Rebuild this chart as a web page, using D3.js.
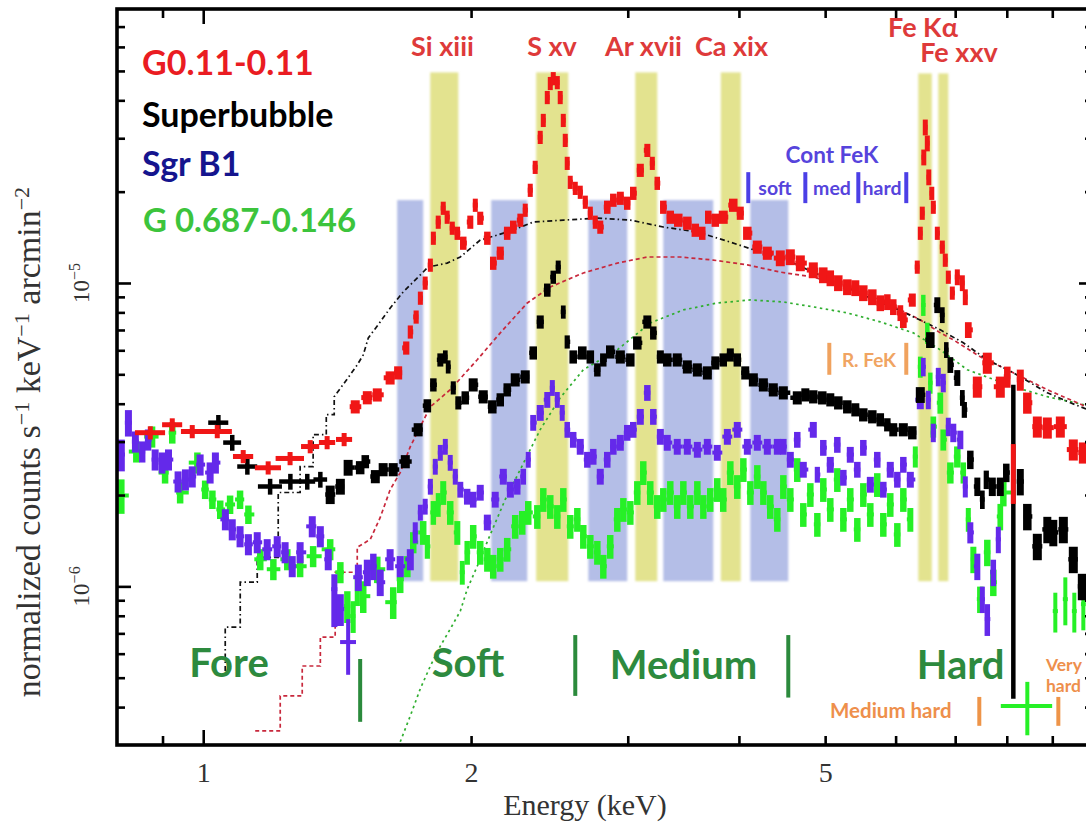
<!DOCTYPE html>
<html>
<head>
<meta charset="utf-8">
<script src="https://cdn.jsdelivr.net/npm/d3@7"></script>
<style>
  html, body { margin: 0; padding: 0; background: #fff; }
  svg { display: block; }
</style>
</head>
<body>
<svg id="chart" width="1086" height="828"></svg>
<script>
// ---------- spectral bands (keV) ----------
const contBands = [[1.652, 1.767], [2.107, 2.313], [2.709, 2.996], [3.289, 3.743], [4.1195, 4.545]];
const lineBands = [[1.7995, 1.935], [2.367, 2.572], [3.059, 3.238], [3.817, 4.019]];
const feBands = [[6.363, 6.589], [6.701, 6.877]];
const contBandTop = 1.876e-5;
const lineBandTop = 4.944e-5;
const feBandTop = 4.906e-5;
const bandBottom = 1.04e-6;

// ---------- spectra: [energy keV, flux, relative error (or [low, high]), optional half bin width keV] ----------
const g011Points = [
  [0.872, 3.21e-6, 0.05, 0.034], [0.923, 3.41e-6, 0.05, 0.024], [0.972, 3.24e-6, 0.05, 0.028],
  [1.037, 3.24e-6, 0.05, 0.040], [1.109, 2.68e-6, 0.05, 0.029], [1.183, 2.46e-6, 0.05, 0.040],
  [1.252, 2.64e-6, 0.05, 0.046], [1.319, 2.89e-6, 0.05, 0.031], [1.378, 2.98e-6, 0.05, 0.029],
  [1.440, 3.05e-6, 0.05, 0.030], [1.482, 3.91e-6, 0.05], [1.529, 4.19e-6, 0.05],
  [1.569, 4.28e-6, 0.05], [1.622, 4.87e-6, 0.05], [1.656, 5.06e-6, 0.05], [1.691, 6.11e-6, 0.05],
  [1.709, 6.90e-6, 0.05], [1.735, 7.73e-6, 0.05], [1.754, 8.92e-6, 0.05], [1.776, 1.00e-5, 0.05],
  [1.800, 1.146e-5, 0.05], [1.814, 1.406e-5, 0.05], [1.837, 1.588e-5, 0.05], [1.861, 1.765e-5, 0.05],
  [1.880, 1.649e-5, 0.05], [1.905, 1.517e-5, 0.05], [1.930, 1.460e-5, 0.05], [1.960, 1.354e-5, 0.05],
  [1.996, 1.588e-5, 0.05], [2.022, 1.806e-5, 0.05], [2.048, 1.636e-5, 0.05], [2.086, 1.406e-5, 0.05],
  [2.118, 1.163e-5, 0.05], [2.157, 1.255e-5, 0.05], [2.196, 1.460e-5, 0.05], [2.231, 1.529e-5, 0.05],
  [2.272, 1.612e-5, 0.05], [2.301, 1.739e-5, 0.05], [2.331, 2.023e-5, 0.05], [2.361, 2.408e-5, 0.05],
  [2.392, 3.023e-5, 0.05], [2.411, 3.438e-5, 0.05], [2.436, 4.09e-5, 0.05], [2.455, 4.55e-5, 0.05],
  [2.474, 4.72e-5, 0.05], [2.500, 4.58e-5, 0.05], [2.519, 4.09e-5, 0.05], [2.539, 3.438e-5, 0.05],
  [2.552, 2.955e-5, 0.05], [2.565, 2.482e-5, 0.05], [2.585, 2.149e-5, 0.05], [2.619, 2.053e-5, 0.05],
  [2.653, 1.993e-5, 0.05], [2.688, 1.848e-5, 0.05], [2.723, 1.700e-5, 0.05], [2.758, 1.588e-5, 0.05],
  [2.794, 1.529e-5, 0.05], [2.845, 1.779e-5, 0.05], [2.890, 1.876e-5, 0.05], [2.943, 1.904e-5, 0.05],
  [2.996, 1.834e-5, 0.05], [3.043, 1.977e-5, 0.05], [3.099, 2.354e-5, 0.05], [3.156, 2.738e-5, 0.05],
  [3.197, 2.482e-5, 0.05], [3.238, 2.133e-5, 0.05], [3.289, 1.779e-5, 0.05], [3.349, 1.649e-5, 0.05],
  [3.419, 1.612e-5, 0.05], [3.500, 1.576e-5, 0.05], [3.573, 1.494e-5, 0.05], [3.638, 1.460e-5, 0.05],
  [3.695, 1.649e-5, 0.05], [3.763, 1.612e-5, 0.05], [3.841, 1.649e-5, 0.05], [3.942, 1.806e-5, 0.05],
  [4.014, 1.700e-5, 0.05], [4.088, 1.460e-5, 0.05], [4.195, 1.314e-5, 0.05], [4.305, 1.255e-5, 0.05],
  [4.452, 1.208e-5, 0.06], [4.569, 1.218e-5, 0.06], [4.689, 1.163e-5, 0.06], [4.849, 1.103e-5, 0.06],
  [4.976, 1.062e-5, 0.06], [5.067, 1.038e-5, 0.06], [5.173, 1.00e-5, 0.06], [5.295, 9.70e-6, 0.06],
  [5.406, 9.63e-6, 0.06], [5.519, 9.27e-6, 0.06], [5.649, 8.99e-6, 0.06], [5.767, 8.59e-6, 0.06],
  [5.873, 8.66e-6, 0.06], [5.964, 8.34e-6, 0.06], [6.074, 7.968e-6, 0.06], [6.121, 7.557e-6, 0.06],
  [6.265, 8.792e-6, 0.05], [6.346, 1.129e-5, 0.05], [6.396, 1.460e-5, 0.05],
  [6.429, 1.700e-5, 0.05], [6.454, 2.597e-5, 0.06], [6.479, 3.261e-5, 0.06], [6.513, 2.889e-5, 0.06],
  [6.538, 2.233e-5, 0.06], [6.589, 1.977e-5, 0.05], [6.615, 1.779e-5, 0.05], [6.684, 1.460e-5, 0.05],
  [6.771, 1.314e-5, 0.05], [6.823, 1.190e-5, 0.05], [6.877, 1.046e-5, 0.05], [6.948, 9.27e-6, 0.05],
  [7.039, 1.046e-5, 0.06], [7.131, 1.00e-5, 0.06], [7.186, 8.99e-6, 0.06], [7.242, 7.006e-6, 0.06],
  [7.413, 4.55e-6, 0.08], [7.607, 5.456e-6, 0.08], [7.867, 4.55e-6, 0.08], [8.011, 4.908e-6, 0.08],
  [8.137, 2.337e-6, [0.2, 0.26], 0.02], [8.285, 4.798e-6, 0.08], [8.437, 4.03e-6, 0.08],
  [8.658, 3.361e-6, 0.08], [8.885, 3.336e-6, 0.08], [9.189, 3.361e-6, 0.08], [9.503, 2.824e-6, 0.08],
  [9.753, 2.76e-6, 0.08]
];

const superbubblePoints = [
  [1.040, 3.464e-6, 0.06, 0.027], [1.078, 2.978e-6, 0.06, 0.025], [1.121, 2.483e-6, 0.06, 0.029],
  [1.189, 2.134e-6, 0.06, 0.037], [1.253, 2.216e-6, 0.06, 0.036], [1.309, 2.216e-6, 0.06, 0.027],
  [1.354, 2.25e-6, 0.06, 0.024], [1.389, 2.008e-6, 0.07], [1.426, 2.134e-6, 0.06],
  [1.455, 2.464e-6, 0.06], [1.501, 2.464e-6, 0.05], [1.521, 2.579e-6, 0.05], [1.561, 2.302e-6, 0.05],
  [1.593, 2.427e-6, 0.05], [1.635, 2.427e-6, 0.05], [1.687, 2.579e-6, 0.05], [1.744, 3.286e-6, 0.05],
  [1.786, 3.941e-6, 0.05], [1.814, 4.619e-6, 0.05], [1.847, 5.582e-6, 0.05], [1.871, 5.71e-6, 0.05],
  [1.885, 5.294e-6, 0.05], [1.910, 4.515e-6, 0.05], [1.935, 4.03e-6, 0.05], [1.970, 4.186e-6, 0.05],
  [2.011, 4.619e-6, 0.05], [2.064, 4.219e-6, 0.05], [2.113, 3.91e-6, 0.05], [2.157, 4.124e-6, 0.05],
  [2.196, 4.448e-6, 0.05], [2.242, 4.798e-6, 0.05], [2.301, 4.908e-6, 0.05], [2.349, 5.886e-6, 0.05],
  [2.392, 7.444e-6, 0.05], [2.436, 9.484e-6, 0.05], [2.474, 1.046e-5, 0.05], [2.506, 1.129e-5, 0.05],
  [2.539, 8.029e-6, 0.05], [2.565, 6.398e-6, 0.05], [2.605, 5.71e-6, 0.05], [2.667, 5.886e-6, 0.05],
  [2.723, 5.71e-6, 0.05], [2.773, 5.175e-6, 0.05], [2.816, 5.582e-6, 0.05], [2.867, 5.931e-6, 0.05],
  [2.943, 5.71e-6, 0.05], [3.020, 5.582e-6, 0.05], [3.075, 6.349e-6, 0.05], [3.156, 7.444e-6, 0.05],
  [3.205, 6.848e-6, 0.05], [3.264, 5.71e-6, 0.05], [3.323, 5.582e-6, 0.05], [3.410, 5.582e-6, 0.05],
  [3.500, 5.294e-6, 0.05], [3.592, 5.175e-6, 0.05], [3.686, 5.059e-6, 0.05], [3.763, 5.456e-6, 0.05],
  [3.841, 5.582e-6, 0.05], [3.912, 5.797e-6, 0.05], [3.983, 5.582e-6, 0.05], [4.066, 5.059e-6, 0.05],
  [4.152, 4.798e-6, 0.05], [4.261, 4.619e-6, 0.05], [4.372, 4.448e-6, 0.05], [4.487, 4.348e-6, 0.05],
  [4.652, 4.186e-6, 0.05], [4.750, 4.282e-6, 0.05], [4.849, 4.219e-6, 0.05], [4.963, 4.186e-6, 0.05],
  [5.067, 4.124e-6, 0.05], [5.173, 4.03e-6, 0.05], [5.295, 3.91e-6, 0.05], [5.406, 3.823e-6, 0.05],
  [5.519, 3.68e-6, 0.05], [5.649, 3.626e-6, 0.05], [5.767, 3.544e-6, 0.05], [5.873, 3.412e-6, 0.05],
  [5.964, 3.286e-6, 0.05], [6.121, 3.286e-6, 0.05],
  [6.265, 3.212e-6, 0.05], [6.396, 4.28e-6, 0.06], [6.564, 6.495e-6, 0.06], [6.684, 8.464e-6, 0.06],
  [6.771, 7.847e-6, 0.06], [6.841, 6.021e-6, 0.06], [6.913, 5.374e-6, 0.06], [7.039, 4.87e-6, 0.06],
  [7.131, 4.186e-6, 0.06], [7.168, 3.823e-6, 0.06], [7.280, 2.618e-6, 0.07], [7.413, 2.134e-6, 0.07],
  [7.510, 1.934e-6, 0.07], [7.587, 2.25e-6, 0.07], [7.706, 2.134e-6, 0.07], [7.867, 2.134e-6, 0.07],
  [7.990, 2.372e-6, 0.07], [8.137, 2.824e-6, [0.849, 0.636], 0.02], [8.285, 2.216e-6, 0.1],
  [8.437, 1.700e-6, 0.1], [8.658, 1.355e-6, 0.1], [8.885, 1.541e-6, 0.1], [9.024, 1.506e-6, 0.1],
  [9.261, 1.541e-6, 0.1], [9.503, 1.228e-6, 0.1], [9.727, 1.0e-6, 0.1]
];

const sgrB1Points = [
  [0.809, 2.72e-6, 0.12], [0.824, 3.464e-6, 0.1], [0.839, 3.0e-6, 0.08], [0.854, 2.782e-6, 0.08],
  [0.867, 3.046e-6, 0.08], [0.883, 2.618e-6, 0.08], [0.899, 2.558e-6, 0.08], [0.914, 2.618e-6, 0.08],
  [0.937, 2.216e-6, 0.08], [0.955, 2.25e-6, 0.08], [0.972, 2.302e-6, 0.08], [0.992, 2.52e-6, 0.08],
  [1.018, 2.372e-6, 0.08], [1.032, 2.558e-6, 0.08], [1.059, 1.663e-6, 0.08], [1.078, 1.541e-6, 0.08],
  [1.100, 1.462e-6, 0.08], [1.124, 1.376e-6, 0.08], [1.150, 1.397e-6, 0.08], [1.180, 1.325e-6, 0.08],
  [1.211, 1.355e-6, 0.08], [1.236, 1.295e-6, 0.08], [1.259, 1.165e-6, 0.08], [1.285, 1.295e-6, 0.08],
  [1.326, 1.577e-6, 0.08], [1.354, 1.462e-6, 0.08], [1.382, 1.228e-6, 0.08],
  [1.404, 9.788e-7, [0.25, 0.12]], [1.426, 8.413e-7, 0.12], [1.455, 6.553e-7, [0.22, 0.19], 0.03],
  [1.494, 1.072e-6, 0.1], [1.529, 1.113e-6, 0.1], [1.553, 1.165e-6, 0.1], [1.581, 1.032e-6, 0.1],
  [1.622, 1.228e-6, 0.08], [1.665, 1.165e-6, 0.08], [1.709, 1.228e-6, 0.08], [1.731, 1.506e-6, 0.08],
  [1.754, 1.753e-6, 0.06], [1.776, 1.834e-6, 0.06], [1.800, 2.134e-6, 0.06], [1.823, 2.483e-6, 0.06],
  [1.847, 2.760e-6, 0.06], [1.871, 2.889e-6, 0.06], [1.895, 2.558e-6, 0.06], [1.920, 2.302e-6, 0.06],
  [1.945, 2.086e-6, 0.06], [1.980, 1.978e-6, 0.06], [2.011, 1.934e-6, 0.06], [2.048, 2.039e-6, 0.06],
  [2.086, 1.626e-6, 0.06], [2.129, 1.934e-6, 0.06], [2.174, 2.302e-6, 0.06], [2.214, 2.086e-6, 0.06],
  [2.254, 2.134e-6, 0.06], [2.289, 2.302e-6, 0.06], [2.319, 2.618e-6, 0.06], [2.349, 3.465e-6, 0.06],
  [2.392, 3.737e-6, 0.06], [2.436, 4.124e-6, 0.06], [2.468, 4.515e-6, 0.06], [2.500, 4.124e-6, 0.06],
  [2.532, 3.737e-6, 0.06], [2.565, 3.286e-6, 0.06], [2.605, 3.046e-6, 0.06], [2.653, 2.889e-6, 0.06],
  [2.702, 2.618e-6, 0.06], [2.744, 2.678e-6, 0.06], [2.794, 2.302e-6, 0.06], [2.845, 2.618e-6, 0.06],
  [2.890, 2.889e-6, 0.06], [2.943, 2.978e-6, 0.06], [2.996, 3.212e-6, 0.06], [3.043, 3.286e-6, 0.06],
  [3.099, 3.626e-6, 0.06], [3.156, 4.348e-6, 0.06], [3.205, 3.626e-6, 0.06], [3.264, 3.116e-6, 0.06],
  [3.323, 2.978e-6, 0.06], [3.410, 2.889e-6, 0.06], [3.500, 2.889e-6, 0.06], [3.592, 2.824e-6, 0.06],
  [3.686, 2.889e-6, 0.06], [3.782, 2.760e-6, 0.06], [3.882, 3.116e-6, 0.06], [3.983, 3.286e-6, 0.06],
  [4.088, 2.889e-6, 0.06], [4.195, 2.978e-6, 0.06], [4.305, 2.889e-6, 0.06], [4.418, 2.889e-6, 0.06],
  [4.487, 2.889e-6, 0.06], [4.569, 2.618e-6, 0.06], [4.652, 3.046e-6, 0.06], [4.725, 2.427e-6, 0.06],
  [4.849, 3.286e-6, 0.06], [4.900, 2.337e-6, 0.06], [4.976, 2.866e-6, 0.06], [5.067, 2.52e-6, 0.06],
  [5.160, 2.932e-6, 0.06], [5.241, 2.284e-6, 0.06], [5.336, 2.719e-6, 0.06], [5.434, 2.427e-6, 0.06],
  [5.519, 2.866e-6, 0.06], [5.620, 2.166e-6, 0.06], [5.722, 2.618e-6, 0.06], [5.812, 2.086e-6, 0.06],
  [5.918, 2.427e-6, 0.06], [6.027, 2.25e-6, 0.06], [6.121, 2.52e-6, 0.06], [6.233, 2.25e-6, 0.06],
  [6.396, 4.124e-6, 0.07], [6.446, 5.294e-6, 0.07], [6.530, 4.124e-6, 0.07], [6.615, 3.212e-6, 0.07],
  [6.701, 4.908e-6, 0.07], [6.788, 4.69e-6, 0.07], [6.877, 3.361e-6, 0.07], [6.966, 3.212e-6, 0.07],
  [7.094, 3.046e-6, 0.07], [7.186, 2.134e-6, 0.08], [7.280, 1.506e-6, 0.08], [7.413, 1.165e-6, 0.1],
  [7.510, 9.074e-7, 0.1], [7.607, 7.8e-7, 0.12], [7.726, 1.113e-6, 0.1], [7.827, 1.429e-6, 0.1]
];

const g0687Points = [
  [0.809, 1.993e-6, 0.13], [0.841, 2.782e-6, 0.08], [0.876, 3.116e-6, 0.08], [0.906, 2.372e-6, 0.08],
  [0.923, 3.212e-6, 0.08], [0.942, 2.039e-6, 0.08], [0.985, 2.558e-6, 0.08], [1.005, 2.086e-6, 0.07],
  [1.024, 1.934e-6, 0.07], [1.045, 1.793e-6, 0.07], [1.072, 1.862e-6, 0.07], [1.100, 1.934e-6, 0.07],
  [1.124, 1.726e-6, 0.07], [1.159, 1.228e-6, 0.08], [1.199, 1.139e-6, 0.08], [1.243, 1.228e-6, 0.08],
  [1.285, 1.165e-6, 0.08], [1.329, 1.257e-6, 0.08], [1.389, 1.325e-6, 0.08], [1.426, 1.113e-6, 0.08],
  [1.452, 8.606e-7, 0.12], [1.474, 7.979e-7, 0.12], [1.490, 9.788e-7, 0.12], [1.513, 9.283e-7, 0.12],
  [1.569, 1.139e-6, 0.1], [1.635, 8.87e-7, 0.12], [1.665, 1.056e-6, 0.1], [1.696, 1.165e-6, 0.08],
  [1.722, 1.397e-6, 0.08], [1.767, 1.506e-6, 0.09], [1.786, 1.355e-6, 0.09], [1.814, 1.753e-6, 0.09],
  [1.837, 1.862e-6, 0.09], [1.861, 2.039e-6, 0.09], [1.895, 1.753e-6, 0.09], [1.930, 1.506e-6, 0.09],
  [1.955, 1.113e-6, 0.09], [1.980, 1.295e-6, 0.09], [2.011, 1.462e-6, 0.09], [2.048, 1.295e-6, 0.09],
  [2.086, 1.228e-6, 0.09], [2.118, 1.165e-6, 0.09], [2.157, 1.228e-6, 0.09], [2.196, 1.325e-6, 0.09],
  [2.242, 1.577e-6, 0.09], [2.283, 1.626e-6, 0.09], [2.319, 1.753e-6, 0.09], [2.374, 1.70e-6, 0.09],
  [2.411, 1.934e-6, 0.09], [2.455, 1.834e-6, 0.09], [2.500, 1.70e-6, 0.09], [2.539, 1.934e-6, 0.09],
  [2.585, 1.577e-6, 0.09], [2.633, 1.663e-6, 0.09], [2.674, 1.462e-6, 0.09], [2.723, 1.355e-6, 0.09],
  [2.773, 1.295e-6, 0.09], [2.816, 1.165e-6, 0.09], [2.867, 1.355e-6, 0.09], [2.920, 1.663e-6, 0.09],
  [2.966, 1.793e-6, 0.09], [3.020, 1.753e-6, 0.09], [3.075, 2.039e-6, 0.09], [3.123, 2.372e-6, 0.09],
  [3.180, 2.039e-6, 0.09], [3.238, 1.834e-6, 0.09], [3.289, 1.934e-6, 0.09], [3.349, 2.039e-6, 0.09],
  [3.410, 1.834e-6, 0.09], [3.464, 2.039e-6, 0.09], [3.527, 1.834e-6, 0.09], [3.592, 2.039e-6, 0.09],
  [3.648, 1.834e-6, 0.09], [3.714, 1.934e-6, 0.09], [3.782, 2.086e-6, 0.09], [3.841, 1.934e-6, 0.09],
  [3.912, 2.372e-6, 0.09], [3.983, 2.134e-6, 0.09], [4.046, 2.427e-6, 0.09], [4.120, 2.039e-6, 0.09],
  [4.195, 2.302e-6, 0.09], [4.261, 2.039e-6, 0.09], [4.338, 1.834e-6, 0.09], [4.418, 1.663e-6, 0.09],
  [4.487, 2.134e-6, 0.09], [4.569, 1.934e-6, 0.09], [4.652, 2.427e-6, 0.09], [4.725, 1.726e-6, 0.09],
  [4.812, 2.008e-6, 0.09], [4.900, 1.601e-6, 0.09], [4.976, 2.086e-6, 0.09], [5.067, 1.793e-6, 0.09],
  [5.160, 2.25e-6, 0.09], [5.241, 1.663e-6, 0.09], [5.336, 1.934e-6, 0.09], [5.434, 1.541e-6, 0.09],
  [5.519, 2.008e-6, 0.09], [5.620, 1.726e-6, 0.09], [5.722, 2.166e-6, 0.09], [5.812, 1.601e-6, 0.09],
  [5.918, 1.862e-6, 0.09], [6.027, 1.483e-6, 0.09], [6.121, 1.934e-6, 0.09], [6.233, 1.663e-6, 0.09],
  [6.314, 2.678e-6, 0.08], [6.396, 5.294e-6, 0.08], [6.446, 8.464e-6, 0.08], [6.513, 6.848e-6, 0.08],
  [6.564, 4.69e-6, 0.08], [6.615, 3.361e-6, 0.08], [6.736, 4.03e-6, 0.08], [6.788, 3.046e-6, 0.08],
  [6.913, 2.372e-6, 0.08], [7.039, 2.678e-6, 0.08], [7.149, 2.372e-6, 0.08], [7.242, 1.663e-6, 0.09],
  [7.337, 1.228e-6, 0.1], [7.471, 9.074e-7, 0.1], [7.607, 1.295e-6, 0.1], [7.726, 1.032e-6, 0.1],
  [7.867, 1.70e-6, 0.1], [7.929, 2.039e-6, 0.1], [8.437, 4.037e-7, 0.2, 0.56],
  [9.071, 8.287e-7, 0.15, 0.06], [9.309, 9.074e-7, 0.18, 0.06], [9.528, 8.287e-7, 0.15, 0.06],
  [9.753, 8.736e-7, 0.18, 0.06]
];

// ---------- folded model curves: [energy keV, flux] ----------
const superbubbleModel = [
  [1.0586, 5.262e-7], [1.0586, 7.34e-7], [1.1005, 7.34e-7], [1.1005, 1.032e-6], [1.150, 1.032e-6],
  [1.150, 1.247e-6], [1.2142, 1.247e-6], [1.2142, 2.039e-6], [1.285, 2.039e-6], [1.285, 2.483e-6],
  [1.329, 2.483e-6], [1.329, 3.163e-6], [1.375, 3.163e-6], [1.375, 3.68e-6], [1.4035, 3.68e-6],
  [1.4035, 4.219e-6], [1.444, 4.726e-6], [1.490, 5.374e-6], [1.513, 5.797e-6], [1.533, 6.593e-6],
  [1.581, 7.444e-6], [1.6225, 8.273e-6], [1.674, 9.27e-6], [1.722, 1.008e-5], [1.790, 1.129e-5],
  [1.880, 1.163e-5], [1.945, 1.218e-5], [2.048, 1.385e-5], [2.140, 1.438e-5], [2.231, 1.494e-5],
  [2.349, 1.588e-5], [2.539, 1.612e-5], [2.773, 1.636e-5], [3.020, 1.612e-5], [3.289, 1.529e-5],
  [3.592, 1.472e-5], [3.912, 1.364e-5], [4.261, 1.255e-5], [4.604, 1.163e-5], [5.067, 1.023e-5],
  [5.620, 8.92e-6], [6.121, 8.029e-6], [6.736, 7.006e-6], [7.149, 6.349e-6], [7.607, 5.582e-6],
  [8.137, 5.059e-6], [8.885, 4.348e-6], [9.43, 4.03e-6], [10.0, 3.766e-6]
];
const g011Model = [
  [1.144, 3.341e-7], [1.2205, 3.341e-7], [1.2205, 4.355e-7], [1.292, 4.355e-7], [1.292, 5.465e-7],
  [1.354, 5.465e-7], [1.354, 6.805e-7], [1.407, 6.805e-7], [1.407, 1.113e-6], [1.4897, 1.113e-6],
  [1.4897, 1.345e-6], [1.541, 1.429e-6], [1.581, 1.687e-6], [1.6225, 2.086e-6], [1.665, 2.372e-6],
  [1.709, 2.889e-6], [1.7535, 3.361e-6], [1.80, 3.91e-6], [1.895, 4.448e-6], [2.032, 5.582e-6],
  [2.157, 6.848e-6], [2.313, 8.59e-6], [2.455, 9.70e-6], [2.674, 1.079e-5], [2.920, 1.163e-5],
  [3.156, 1.218e-5], [3.437, 1.218e-5], [3.743, 1.19e-5], [4.088, 1.147e-5], [4.452, 1.086e-5],
  [4.849, 1.046e-5], [5.295, 9.70e-6], [5.767, 8.792e-6], [6.396, 7.557e-6], [6.736, 6.848e-6],
  [6.966, 6.495e-6], [7.471, 5.71e-6], [8.137, 5.059e-6], [8.885, 4.448e-6], [10.0, 3.823e-6]
];
const g0687Model = [
  [1.665, 3.074e-7], [1.709, 3.743e-7], [1.7535, 4.592e-7], [1.80, 5.465e-7], [1.847, 6.358e-7],
  [1.895, 7.231e-7], [1.945, 8.287e-7], [1.980, 9.788e-7], [2.032, 1.165e-6], [2.102, 1.483e-6],
  [2.185, 1.934e-6], [2.2715, 2.427e-6], [2.392, 3.286e-6], [2.519, 4.186e-6], [2.674, 5.175e-6],
  [2.920, 6.021e-6], [3.180, 7.387e-6], [3.464, 8.151e-6], [3.782, 8.59e-6], [4.1195, 8.792e-6],
  [4.487, 8.66e-6], [4.849, 8.34e-6], [5.295, 7.968e-6], [5.767, 7.444e-6], [6.281, 6.848e-6],
  [6.736, 6.021e-6], [7.224, 5.175e-6], [8.137, 4.55e-6], [8.885, 4.219e-6], [10.0, 3.911e-6]
];

// ---------- range markers ----------
const regionDividers = [[1.501, 3.577e-7, 5.762e-7], [2.619, 4.355e-7, 6.91e-7], [4.545, 4.30e-7, 6.91e-7]];
const contFeKTicks = [4.098, 4.750, 5.448, 6.168];
const contFeKRange = [1.833e-5, 2.319e-5];
const rFeKTicks = [5.054, 6.168];
const rFeKRange = [4.982e-6, 6.349e-6];
const hardTicks = [7.451, 9.142];
const hardRange = [3.47e-7, 4.321e-7];

// ---------- axes ----------
const xMinorTicks = [0.9, 2, 3, 4, 5, 6, 7, 8, 9];
const xMajorTicks = [1];
const xTickLabels = [1, 2, 5];
const yMinorTicks = [4e-7, 5e-7, 6e-7, 7e-7, 8e-7, 9e-7, 2e-6, 3e-6, 4e-6, 5e-6, 6e-6, 7e-6, 8e-6, 9e-6,
  2e-5, 3e-5, 4e-5, 5e-5, 6e-5, 7e-5];
const yMajorTicks = [1e-6, 1e-5];
const yTickExponents = [-6, -5];

// ---------- scales ----------
const x = d3.scaleLog().domain([0.8, 10]).range([117, 1093]);
const y = d3.scaleLog().domain([3e-7, 8e-5]).range([745, 9]);
const [x0, x1] = x.range();
const [y0, y1] = y.range();

const svg = d3.select('#chart');
const defs = svg.append('defs');
defs.append('clipPath').attr('id', 'plotArea')
  .append('rect').attr('x', x0).attr('y', y1).attr('width', x1 - x0).attr('height', y0 - y1);
defs.append('filter').attr('id', 'soften').attr('x', '-5%').attr('y', '-5%').attr('width', '110%').attr('height', '110%')
  .append('feGaussianBlur').attr('stdDeviation', 1.3);

const plot = svg.append('g').attr('clip-path', 'url(#plotArea)');

// shaded energy bands
const bandG = plot.append('g').attr('filter', 'url(#soften)');
function band(pair, top, color) {
  bandG.append('rect')
    .attr('x', x(pair[0])).attr('width', x(pair[1]) - x(pair[0]))
    .attr('y', y(top)).attr('height', y(bandBottom) - y(top))
    .attr('fill', color);
}
contBands.forEach(b => band(b, contBandTop, '#b4bee7'));
lineBands.forEach(b => band(b, lineBandTop, '#e3e38f'));
feBands.forEach(b => band(b, feBandTop, '#e3e38f'));

// range marker bars
function vbar(E, lo, hi, color, w) {
  plot.append('line')
    .attr('x1', x(E)).attr('x2', x(E)).attr('y1', y(lo)).attr('y2', y(hi))
    .attr('stroke', color).attr('stroke-width', w);
}
regionDividers.forEach(d => vbar(d[0], d[1], d[2], '#2b8a3c', 4));
contFeKTicks.forEach(E => vbar(E, contFeKRange[0], contFeKRange[1], '#4b3fe6', 4));
rFeKTicks.forEach(E => vbar(E, rFeKRange[0], rFeKRange[1], '#f0a25e', 4));
hardTicks.forEach(E => vbar(E, hardRange[0], hardRange[1], '#ee9448', 4));

// model curves
const modelLine = d3.line().x(d => x(d[0])).y(d => y(d[1]));
function model(data, color, dash) {
  plot.append('path').datum(data)
    .attr('d', modelLine).attr('fill', 'none')
    .attr('stroke', color).attr('stroke-width', 1.7).attr('stroke-dasharray', dash);
}
model(g0687Model, '#2fae2f', '2.5,3.5');
model(g011Model, '#c8283c', '4,3');
model(superbubbleModel, '#111', '5,3,1.5,3');

// spectra as error-bar crosses; adjacent bins share their edges
function binEdges(data) {
  const lg = data.map(d => Math.log10(d[0]));
  const cap = 0.02, floor = 0.0025;
  return data.map((d, i) => {
    if (d[3] != null) return [d[0] - d[3], d[0] + d[3], true];
    let l = i > 0 ? (lg[i] - lg[i - 1]) / 2 : null;
    let r = i < data.length - 1 ? (lg[i + 1] - lg[i]) / 2 : null;
    if (l == null) l = r;
    if (r == null) r = l;
    l = Math.max(floor, Math.min(cap, l));
    r = Math.max(floor, Math.min(cap, r));
    return [Math.pow(10, lg[i] - l), Math.pow(10, lg[i] + r), false];
  });
}
function spectrum(data, color, width, maxBar) {
  const edges = binEdges(data);
  const g = plot.append('g').attr('stroke', color);
  data.forEach((d, i) => {
    const fl = Array.isArray(d[2]) ? d[2][0] : d[2];
    const fh = Array.isArray(d[2]) ? d[2][1] : d[2];
    const xa = x(edges[i][0]), xb = x(edges[i][1]);
    const barW = edges[i][2] ? width : Math.max(width, Math.min(maxBar, xb - xa));
    g.append('line')
      .attr('x1', xa).attr('x2', xb)
      .attr('y1', y(d[1])).attr('y2', y(d[1]))
      .attr('stroke-width', width);
    g.append('line')
      .attr('x1', x(d[0])).attr('x2', x(d[0]))
      .attr('y1', y(d[1] * (1 - fl))).attr('y2', y(d[1] * (1 + fh)))
      .attr('stroke-width', barW);
  });
}
spectrum(g0687Points, '#26f026', 4, 6.5);
spectrum(sgrB1Points, '#6429ea', 4, 7);
spectrum(superbubblePoints, '#000', 4.5, 9);
spectrum(g011Points, '#f01616', 5, 9);

// ---------- frame and ticks ----------
const axG = svg.append('g');
function ticks(axisFn, pos, values, size) {
  axG.append('g').attr('transform', pos)
    .call(axisFn.tickValues(values).tickSize(size).tickFormat(''))
    .call(g => g.select('.domain').remove())
    .call(g => g.selectAll('line').attr('stroke', '#000').attr('stroke-width', 2.6));
}
ticks(d3.axisBottom(x), `translate(0,${y0})`, xMinorTicks, -9);
ticks(d3.axisBottom(x), `translate(0,${y0})`, xMajorTicks, -15);
ticks(d3.axisTop(x), `translate(0,${y1})`, xMinorTicks, -9);
ticks(d3.axisTop(x), `translate(0,${y1})`, xMajorTicks, -15);
ticks(d3.axisLeft(y), `translate(${x0},0)`, yMinorTicks, -8);
ticks(d3.axisLeft(y), `translate(${x0},0)`, yMajorTicks, -14);
ticks(d3.axisRight(y), `translate(${x1},0)`, yMinorTicks, -8);
ticks(d3.axisRight(y), `translate(${x1},0)`, yMajorTicks, -14);

axG.append('rect')
  .attr('x', x0).attr('y', y1).attr('width', x1 - x0).attr('height', y0 - y1)
  .attr('fill', 'none').attr('stroke', '#000').attr('stroke-width', 3.6);

// tick labels
const serif = '"Liberation Serif", "Times New Roman", serif';
axG.append('g').attr('transform', `translate(0,${y0})`)
  .call(d3.axisBottom(x).tickValues(xTickLabels).tickSize(0).tickPadding(17).tickFormat(d3.format('d')))
  .call(g => g.select('.domain').remove())
  .call(g => g.selectAll('text').attr('font-family', serif).attr('font-size', 28).attr('fill', '#333'));

yMajorTicks.forEach((v, i) => {
  const t = axG.append('text')
    .attr('transform', `translate(89,${y(v)}) rotate(-90)`)
    .attr('text-anchor', 'middle')
    .attr('font-family', serif).attr('font-size', 23).attr('fill', '#333');
  t.append('tspan').text('10');
  t.append('tspan').attr('dy', -9).attr('font-size', 16).text('\u2212' + Math.abs(yTickExponents[i]));
});

// axis titles
axG.append('text')
  .attr('x', 585).attr('y', 815).attr('text-anchor', 'middle')
  .attr('font-family', serif).attr('font-size', 30).attr('fill', '#333')
  .text('Energy (keV)');

const yTitle = axG.append('text')
  .attr('transform', 'translate(40,442) rotate(-90)')
  .attr('text-anchor', 'middle')
  .attr('font-family', serif).attr('font-size', 34).attr('fill', '#333');
[['normalized counts s', '\u22121'], [' keV', '\u22121'], [' arcmin', '\u22122']].forEach(([base, sup], i) => {
  yTitle.append('tspan').attr('dy', i === 0 ? 0 : 11).text(base);
  yTitle.append('tspan').attr('dy', -11).attr('font-size', 22).text(sup);
});

// ---------- annotations ----------
const sans = 'Lato, "Open Sans", sans-serif';
const labels = [
  // legend
  { t: 'G0.11-0.11', x: 142, y: 75, s: 34, c: '#ea1c22', a: 'start' },
  { t: 'Superbubble', x: 142, y: 127, s: 34, c: '#000', a: 'start' },
  { t: 'Sgr B1', x: 142, y: 176, s: 34, c: '#15158e', a: 'start' },
  { t: 'G 0.687-0.146', x: 143, y: 232, s: 33, c: '#3cc43c', a: 'start' },
  // emission lines
  { t: 'Si xiii', x: 442.5, y: 56, s: 27, c: '#de3a3a', a: 'middle' },
  { t: 'S xv', x: 552, y: 56, s: 27, c: '#de3a3a', a: 'middle' },
  { t: 'Ar xvii', x: 643.5, y: 56, s: 27, c: '#de3a3a', a: 'middle' },
  { t: 'Ca xix', x: 731.5, y: 56, s: 27, c: '#de3a3a', a: 'middle' },
  { t: 'Fe K\u03b1', x: 923, y: 37, s: 27, c: '#de3a3a', a: 'middle' },
  { t: 'Fe xxv', x: 959, y: 62, s: 27, c: '#de3a3a', a: 'middle' },
  // continuum FeK ranges
  { t: 'Cont FeK', x: 832, y: 163, s: 22.5, c: '#5644dc', a: 'middle' },
  { t: 'soft', x: 775, y: 195, s: 19.5, c: '#5644dc', a: 'middle' },
  { t: 'med', x: 832, y: 195, s: 19.5, c: '#5644dc', a: 'middle' },
  { t: 'hard', x: 882, y: 195, s: 19.5, c: '#5644dc', a: 'middle' },
  { t: 'R. FeK', x: 869, y: 367, s: 19, c: '#f0a462', a: 'middle' },
  // broad bands
  { t: 'Fore', x: 229, y: 677, s: 40, c: '#2d8a3e', a: 'middle' },
  { t: 'Soft', x: 468, y: 677, s: 40, c: '#2d8a3e', a: 'middle' },
  { t: 'Medium', x: 683.5, y: 679, s: 40, c: '#2d8a3e', a: 'middle' },
  { t: 'Hard', x: 960.5, y: 679, s: 40, c: '#2d8a3e', a: 'middle' },
  { t: 'Medium hard', x: 830, y: 718, s: 20.5, c: '#ee8f4c', a: 'start' },
  { t: 'Very', x: 1046, y: 671, s: 17.5, c: '#ee8f4c', a: 'start' },
  { t: 'hard', x: 1046, y: 692, s: 17.5, c: '#ee8f4c', a: 'start' }
];
svg.append('g').selectAll('text').data(labels).join('text')
  .attr('x', d => d.x).attr('y', d => d.y)
  .attr('text-anchor', d => d.a)
  .attr('font-family', sans).attr('font-weight', 700)
  .attr('font-size', d => d.s).attr('fill', d => d.c)
  .text(d => d.t);
</script>
</body>
</html>
